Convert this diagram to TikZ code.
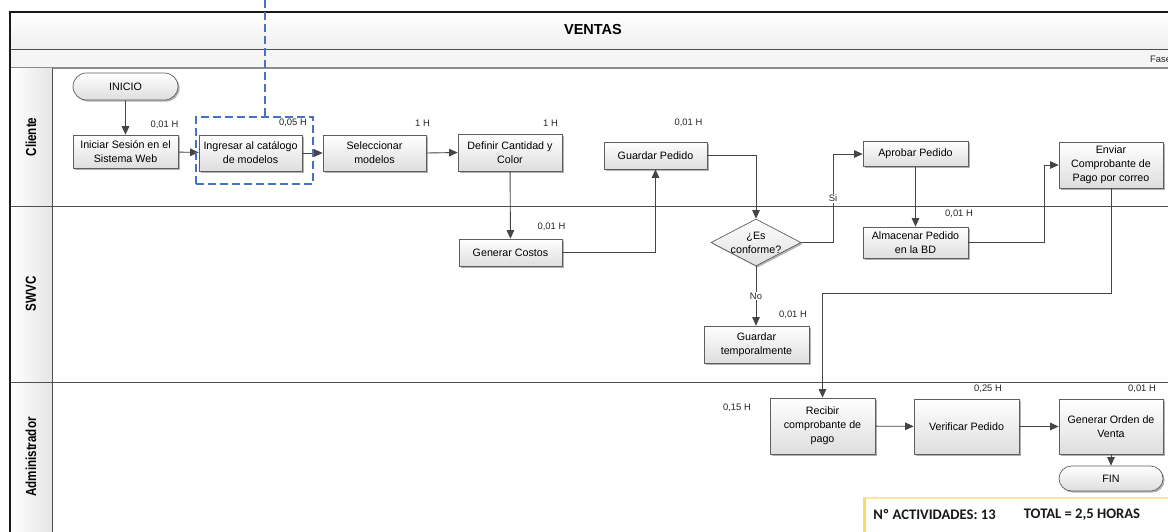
\documentclass[tikz,border=0pt]{standalone}
\usepackage{fontspec}
\setmainfont{Liberation Sans}
\newfontfamily\calib{Carlito}
\usetikzlibrary{arrows.meta,shapes.geometric,shapes.misc,shadows,calc}
\definecolor{edgec}{HTML}{454545}
\definecolor{boxc}{HTML}{5E5E5E}
\definecolor{hlblue}{HTML}{4472C4}
\definecolor{ylw}{HTML}{FFD966}
\definecolor{ylwl}{HTML}{FFE699}
\definecolor{lanec}{HTML}{4E4E4E}
\tikzset{
  act/.style={rectangle, draw=boxc, line width=0.7pt, top color=white, bottom color=black!13,
    drop shadow={shadow xshift=1.6pt,shadow yshift=-1.6pt,opacity=0.3,fill=black},
    font=\fontsize{10.7}{14}\selectfont, align=center, inner sep=0pt},
  term/.style={act, rounded rectangle},
  decision/.style={diamond, draw=boxc, line width=0.7pt, top color=white, bottom color=black!13,
    drop shadow={shadow xshift=1.6pt,shadow yshift=-1.6pt,opacity=0.3,fill=black},
    inner sep=0pt, minimum width=90pt, minimum height=47pt},
  flow/.style={draw=edgec, line width=0.9pt, -{Triangle[length=8.5pt,width=7.5pt]}},
  tlab/.style={font=\fontsize{9.4}{10}\selectfont, inner sep=0pt, text=black!85},
  clab/.style={font=\fontsize{9.4}{10}\selectfont, fill=white, inner sep=1pt, text=black!85},
  lanelab/.style={rotate=90, font=\bfseries\fontsize{14.5}{14}\selectfont, inner sep=0pt},
  hlbox/.style={draw=hlblue, line width=2.4pt, dash pattern=on 8pt off 4pt, inner sep=0pt},
  tot/.style={font=\calib\bfseries\fontsize{14.6}{15}\selectfont, inner sep=0pt, text=black!90}
}
\begin{document}
\begin{tikzpicture}[x=1pt,y=-1pt]
\useasboundingbox (0,0) rectangle (1168,531);
\fill[white] (0,0) rectangle (1168,531);
\begin{scope}
\clip (0,0) rectangle (1168,531);
% header bands
\shade[top color=white, bottom color=black!6] (10,12) rectangle (1175,49);
\fill[black!4] (10,49) rectangle (1175,68);
\draw[lanec, line width=0.9pt] (10,49) -- (1175,49);
\draw[black!45, line width=1.8pt] (10,68) -- (1175,68);
\node[font=\bfseries\fontsize{14.5}{15}\selectfont] (ventas) at (593,30) {VENTAS};
\node[tlab, anchor=west] (fase) at (1150,59) {Fase};
% lane label column
\shade[left color=white, right color=black!10] (10,68) rectangle (52,540);
\draw[lanec, line width=0.9pt] (52,68) -- (52,540);
\draw[lanec, line width=0.9pt] (10,206) -- (1175,206);
\draw[lanec, line width=0.9pt] (10,382) -- (1175,382);
\node[lanelab] (l1) at (31,137) {\scalebox{0.8}[1]{Cliente}};
\node[lanelab] (l2) at (31,294) {\scalebox{0.8}[1]{SWVC}};
\node[lanelab] (l3) at (31,457) {\scalebox{0.8}[1]{Administrador}};
% outer border
\draw[black!90, line width=2.6pt] (10,540) -- (10,12) -- (1175,12);

% activities
\node[term, minimum width=105pt, minimum height=27pt] (inicio) at (125.5,86.5) {INICIO};
\node[act, minimum width=105pt, minimum height=33pt] (ini) at (125.5,151.5) {Iniciar Sesión en el\\Sistema Web};
\node[act, minimum width=103pt, minimum height=36pt] (ing) at (250.5,153) {Ingresar al catálogo\\de modelos};
\node[act, minimum width=103pt, minimum height=36pt] (sel) at (374.5,153) {Seleccionar\\modelos};
\node[act, minimum width=104pt, minimum height=37pt] (def) at (510,152.5) {Definir Cantidad y\\Color};
\node[act, minimum width=103pt, minimum height=27pt] (gp) at (655.5,155.5) {Guardar Pedido};
\node[act, minimum width=103pt, minimum height=27pt] (gc) at (510.5,252.5) {Generar Costos};
\node[decision, label={[font=\fontsize{10.7}{14}\selectfont, align=center]center:¿Es\\conforme?}] (dec) at (756,242.5) {};
\node[act, minimum width=105pt, minimum height=25pt] (ap) at (915.5,154) {Aprobar Pedido};
\node[act, minimum width=105pt, minimum height=31pt] (alm) at (915.5,242.5) {Almacenar Pedido\\en la BD};
\node[act, minimum width=104pt, minimum height=46pt] (env) at (1111,165) {Enviar\\Comprobante de\\Pago por correo};
\node[act, minimum width=105pt, minimum height=37pt] (gt) at (756.5,344.5) {Guardar\\temporalmente};
\node[act, minimum width=105pt, minimum height=56pt] (rec) at (822.5,426) {Recibir\\comprobante de\\pago};
\node[act, minimum width=105pt, minimum height=55pt] (ver) at (966.5,426.5) {Verificar Pedido};
\node[act, minimum width=104pt, minimum height=55pt] (gen) at (1111,426.5) {Generar Orden de\\Venta};
\node[term, minimum width=104pt, minimum height=25pt] (fin) at (1111,478.5) {FIN};

% time labels
\node[tlab] (t1) at (164.5,125) {0,01 H};
\node[tlab] (t2) at (293,123) {0,05 H};
\node[tlab] (t3) at (422.5,123) {1 H};
\node[tlab] (t4) at (550.5,123) {1 H};
\node[tlab] (t5) at (688.5,123) {0,01 H};
\node[tlab] (t6) at (551.5,227) {0,01 H};
\node[tlab] (t7) at (959,214) {0,01 H};
\node[tlab] (t8) at (793,315) {0,01 H};
\node[tlab] (t9) at (737,408) {0,15 H};
\node[tlab] (t10) at (988,389) {0,25 H};
\node[tlab] (t11) at (1142,389) {0,01 H};

% connectors
\draw[flow] (inicio) -- (ini);
\draw[flow] (ini) -- (ing);
\draw[flow] (ing.east) -- (sel.west);
\draw[flow] (sel.east) -- (def.west);
\draw[flow] (def) -- (gc);
\draw[flow] (gc.east) -| (gp.south);
\draw[flow] (gp.east) -| (dec.north);
\coordinate (c1) at (833,242.5);
\draw[flow] (dec.east) -- (c1) |- node[clab, pos=0.25] (si) {Si} (ap.west);
\draw[flow] (dec.south) -- node[clab, pos=0.5] (no) {No} (dec.south |- gt.north);
\draw[flow] (ap) -- (alm);
\coordinate (c2) at (1044,242.5);
\draw[flow] (alm.east) -- (c2) |- (env.west);
\coordinate (c3) at (1111,293);
\draw[flow] (env.south) -- (c3) -| (rec.north);
\draw[flow] (rec) -- (ver);
\draw[flow] (ver) -- (gen);
\draw[flow] (gen) -- (fin);

% highlight
\node[hlbox, minimum width=117pt, minimum height=67pt] (hl) at (254.5,150.5) {};
\coordinate (hltop) at (265,0);
\draw[draw=hlblue, line width=2.4pt, dash pattern=on 8pt off 4pt] (hltop) -- (hltop |- hl.north);

% totals box
\fill[white] (863,498) rectangle (1175,540);
\draw[ylwl, line width=1.6pt] (863,498) -- (1175,498);
\draw[ylw, line width=3pt] (864.5,497.5) -- (864.5,540);
\node[tot] (nact) at (934.5,514) {Nº ACTIVIDADES: 13};
\node[tot] (total) at (1082,515) {TOTAL = 2,5 HORAS};
\end{scope}
\end{tikzpicture}
\end{document}
